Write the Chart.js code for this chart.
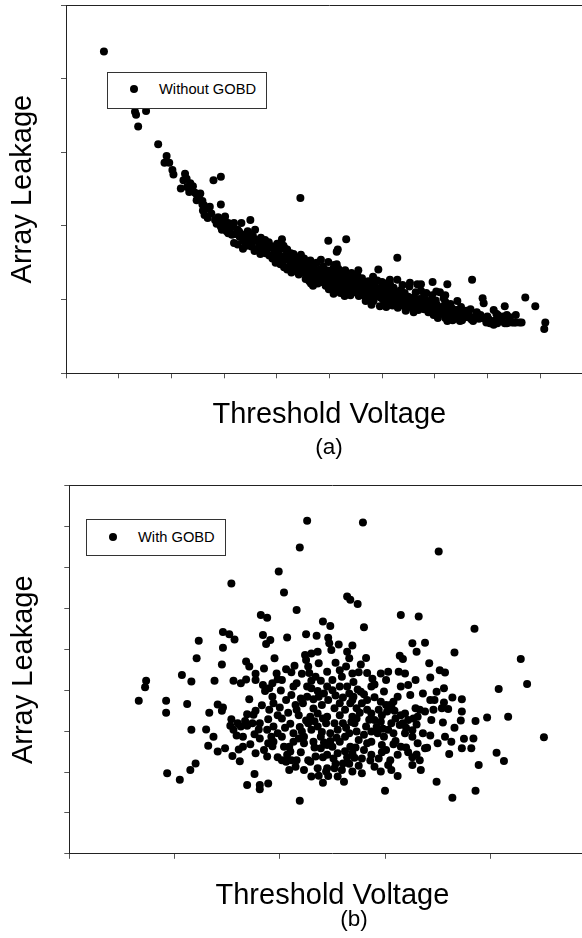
<!DOCTYPE html>
<html>
<head>
<meta charset="utf-8">
<script src="https://cdn.jsdelivr.net/npm/chart.js@4.4.1/dist/chart.umd.min.js"></script>
<style>
    html, body { margin: 0; padding: 0; background: #fff; overflow: hidden; }
    body { width: 582px; height: 938px; position: relative; font-family: "Liberation Sans", Arial, sans-serif; }
    .panel { position: absolute; left: 0; width: 640px; }
    .legend { position: absolute; border: 1px solid #333; background: #fff; box-sizing: border-box; }
    .legend .dot { position: absolute; width: 8px; height: 8px; border-radius: 50%; background: #000; }
    .legend .lbl { position: absolute; font-size: 14.7px; line-height: 1; color: #000; white-space: nowrap; }
    .tag { position: absolute; font-size: 22.5px; line-height: 1; color: #000; transform: translateX(-50%); }
</style>
</head>
<body>
<div class="panel" style="top:0;height:470px"><canvas id="chartA" width="640" height="470"></canvas></div>
<div class="panel" style="top:470px;height:468px"><canvas id="chartB" width="640" height="468"></canvas></div>

<div class="legend" style="left:107px;top:72px;width:160px;height:37px">
    <span class="dot" style="left:22px;top:12.3px"></span>
    <span class="lbl" id="legA" style="left:51px;top:9.3px"></span>
</div>
<div class="legend" style="left:86px;top:519px;width:140px;height:37px">
    <span class="dot" style="left:21.7px;top:12.7px"></span>
    <span class="lbl" id="legB" style="left:51px;top:9.8px"></span>
</div>
<div class="tag" style="left:329px;top:436px">(a)</div>
<div class="tag" style="left:354px;top:908px">(b)</div>

<script>
// series names and axis titles
const seriesNames = ["Without GOBD", "With GOBD"];
const xTitle = "Threshold Voltage";
const yTitle = "Array Leakage";

// axis ranges (no tick labels in the original, one tick every 10 units)
const rangeA = { x: [0, 100], y: [0, 50] };
const rangeB = { x: [0, 50], y: [0, 90] };
const tickStep = 10;

// (a) without GOBD: [threshold voltage, array leakage]
const withoutGobd = [
    [7.2,43.7],[13.1,35.5],[13.3,35.1],[15.2,35.6],[13.7,33.5],[17.5,31.1],[19.1,29.5],[18.7,28.6],[19.6,28.6],[20.2,27.6],
    [20.4,27.0],[22.6,27.1],[22.9,26.4],[23.6,25.8],[24.1,25.4],[21.8,25.1],[28.0,26.2],[29.4,26.7],[29.4,22.9],
    [22.3,26.2],[23.0,25.3],[23.4,24.6],[23.7,24.9],[24.5,24.5],[24.8,24.3],[25.2,24.0],[25.5,24.4],[25.9,23.4],[24.8,23.5],
    [26.2,22.8],[26.6,22.4],[26.0,22.1],[26.3,21.5],[26.9,21.1],[27.6,21.7],[27.3,22.6],[25.9,22.9],
    [28.3,20.8],[28.6,20.3],[29.0,20.6],[29.6,19.5],[30.1,20.8],[30.4,20.2],[30.8,20.4],[31.1,19.5],[31.9,20.4],[32.6,19.5],
    [31.9,17.7],[32.6,17.5],[33.3,20.4],[30.5,19.3],[29.4,19.9],[31.5,18.8],[32.2,18.9],[33.0,18.5],[28.9,21.2],[30.2,21.3],
    [34.0,18.6],[34.7,19.0],[35.0,20.8],[35.9,19.5],[36.1,18.1],[36.8,17.4],[37.8,18.1],[38.2,16.9],[35.4,17.8],[34.3,17.3],
    [33.6,16.9],[35.8,16.6],[36.9,16.2],[37.6,17.5],[38.6,16.0],[34.8,18.2],[33.8,17.9],
    [39.3,17.2],[39.6,16.3],[40.0,15.4],[41.0,15.9],[41.7,16.0],[42.1,15.4],[42.4,14.5],[43.1,14.9],[43.5,15.2],[40.5,16.8],
    [39.2,15.6],[40.7,14.8],[41.4,14.4],[42.8,13.7],[43.8,13.9],[44.3,14.5],[44.6,16.1],[43.2,16.2],[42.0,16.8],[40.1,17.6],
    [41.3,17.3],[43.9,15.6],[44.9,14.9],[44.5,23.8],[41.0,18.2],[41.6,16.9],[45.2,15.6],
    [45.2,13.6],[45.9,14.7],[46.7,13.4],[47.4,14.0],[48.1,13.8],[48.8,14.5],[49.1,12.9],[49.5,14.0],[45.5,12.8],[46.2,12.5],
    [47.0,12.6],[47.8,12.2],[48.5,12.4],[49.3,11.9],[50.0,12.6],[50.2,13.3],[46.4,15.3],[47.6,15.0],[48.4,15.4],[49.8,15.1],
    [50.6,14.1],[45.8,13.9],[47.1,14.4],[48.9,13.2],[49.9,11.4],[46.9,11.9],
    [49.8,18.0],[51.6,16.8],[51.4,16.5],[53.2,18.2],[51.4,14.8],
    [50.9,14.7],[51.2,13.8],[51.6,12.8],[52.3,12.9],[53.0,12.4],[53.7,11.9],[54.4,12.1],[55.1,11.8],[55.8,12.4],[51.0,11.6],
    [51.8,11.2],[52.6,11.4],[53.4,10.9],[54.0,10.6],[54.8,11.0],[55.6,10.5],[52.0,12.2],[53.3,13.2],[54.6,12.9],[55.3,13.4],
    [56.0,11.5],[50.8,10.8],[52.9,10.5],[54.2,13.6],[53.0,14.0],[55.5,14.0],[53.7,12.9],
    [56.2,12.9],[56.5,11.8],[57.2,11.3],[57.9,12.0],[58.3,13.1],[58.6,11.4],[59.3,14.1],[60.0,12.4],[60.7,11.6],[61.5,12.2],
    [56.8,10.5],[57.6,10.2],[58.4,9.8],[59.0,10.6],[59.7,10.3],[60.4,9.5],[61.2,10.0],[61.9,10.8],[56.9,9.8],[58.0,9.3],
    [59.6,9.1],[60.8,9.0],[57.4,12.5],[59.1,12.6],[60.3,11.0],[61.7,11.3],[58.8,10.9],[60.7,12.2],[61.5,12.7],
    [62.2,11.6],[62.9,12.7],[63.6,11.3],[64.3,10.9],[65.0,10.4],[65.7,10.0],[66.4,11.0],[67.1,10.1],[67.8,9.9],[62.5,9.6],
    [63.2,10.1],[64.0,9.2],[64.8,9.6],[65.5,8.9],[66.2,9.3],[66.9,8.6],[67.5,9.0],[63.0,8.9],[64.5,8.5],[66.0,8.3],
    [62.7,10.9],[65.2,11.8],[67.4,11.2],[68.0,10.6],[63.9,12.0],[66.7,12.1],
    [62.9,15.7],[65.3,12.3],[67.4,12.1],[69.6,12.4],[72.4,12.1],[68.4,10.9],[70.3,11.1],[72.0,10.6],[72.0,9.7],[69.4,10.0],
    [68.5,9.2],[69.2,8.8],[69.9,9.7],[70.6,8.6],[71.3,9.0],[72.0,8.4],[72.7,8.8],[73.4,8.1],[74.1,8.6],[74.8,8.0],
    [68.8,8.3],[69.8,7.9],[70.9,8.0],[72.4,7.6],[73.8,7.4],[68.2,10.0],[70.2,9.9],[71.7,10.2],[73.0,9.4],[74.3,9.8],
    [75.0,9.0],[69.5,10.6],[71.0,11.0],
    [76.8,8.7],[77.1,12.7],[79.1,10.2],[79.3,9.5],[81.2,8.6],[81.7,8.1],[83.3,9.1],[87.2,10.3],[89.1,9.1],[91.0,6.9],[90.8,6.0],
    [75.5,8.1],[76.3,7.6],[77.0,7.3],[77.7,7.7],[75.0,7.4],[74.8,7.1],[73.4,7.2],[72.0,7.5],[78.4,7.4],[79.1,7.5],
    [79.8,6.9],[80.5,6.8],[81.2,6.6],[81.9,6.8],[82.6,7.2],[83.3,6.8],[84.0,6.9],[84.7,6.9],[85.4,6.9],[83.0,7.7],
    [84.3,7.6],[86.1,6.9],[76.0,8.5],[78.0,8.3],[80.0,7.7],[82.0,7.9],
    [83.7,7.9],[85.4,7.9],[85.1,6.9],[86.5,6.9],[83.7,6.8],[80.8,6.8],[77.3,7.1],[75.2,7.2],[74.8,8.2],[72.4,7.1],[70.6,7.5],
    [34.5,19.3],[35.5,18.6],[36.5,17.9],[37.2,16.8],[38.0,17.5],[38.8,17.1],[39.8,15.0],[40.4,15.6],[41.2,15.2],[42.0,14.1],
    [42.6,15.8],[43.4,14.3],[44.2,13.4],[44.8,13.9],[45.6,14.4],[46.0,13.1],[46.8,14.0],[47.4,13.0],[48.0,12.9],[48.6,13.6],
    [49.4,12.6],[50.2,12.1],[50.5,13.6],[51.3,12.4],[51.9,13.3],[52.7,12.2],[53.5,11.6],[54.3,11.5],[55.0,12.6],[55.9,11.9],
    [56.6,11.1],[57.3,10.9],[58.1,11.7],[58.9,11.6],[59.5,10.8],[60.1,10.1],[60.9,10.5],[61.6,9.7],[62.3,10.4],[63.1,11.1],
    [63.8,10.5],[64.6,10.2],[65.3,9.6],[66.0,10.3],[66.8,9.6],[67.6,9.5],[68.3,9.0],[69.0,9.4],[69.7,9.0],[70.4,9.3],
    [71.1,8.6],[71.9,8.9],[72.6,8.2],[73.3,8.8],[74.0,8.2],[46.5,12.2],[52.1,10.9],[57.0,10.0],[62.0,9.2],[58.5,12.3],
    [30.8,19.0],[31.8,19.9],[32.9,19.2],[33.7,18.2],[34.2,18.9],[35.2,17.2],[36.3,16.9],[37.0,18.4],[37.9,16.3],[38.5,17.8],
    [39.5,16.7],[40.3,16.1],[40.9,17.0],[41.8,15.6],[42.7,16.3],[43.3,15.6],[44.0,14.9],[44.7,15.4],[45.4,15.0],[46.1,14.2],
    [46.9,14.9],[47.7,13.5],[48.3,14.1],[49.0,13.9],[49.6,13.3],[50.4,12.9],[51.1,13.1],[51.7,14.2],[52.5,13.6],[53.2,12.9],
    [53.9,12.5],[54.7,12.2],[55.4,11.1],[56.1,12.4],[56.9,11.9],[57.7,11.5],[58.4,10.6],[59.2,11.2],[59.9,11.7],[60.6,10.8],
    [61.3,11.0],[62.0,10.1],[62.8,10.7],[63.5,9.8],[64.2,9.8],[65.0,9.3],[65.8,9.0],[66.5,9.9],[67.2,9.3],[68.0,8.7],
    [68.9,9.7],[70.0,8.4],[71.5,8.3],[73.0,8.0],[74.5,7.6],[76.5,7.9],[78.7,7.9],[80.3,7.3],[81.5,7.2]
];

// (b) with GOBD: [threshold voltage, array leakage]
const withGobd = [
    [22.6,81.4],[27.9,81.0],[21.9,74.9],[35.1,73.9],[19.9,69.0],[15.4,66.1],[20.4,63.9],[26.4,62.9],[26.7,62.1],[27.4,61.1],
    [21.6,59.6],[18.2,58.4],[18.8,57.7],[31.5,58.4],[33.2,58.0],[24.1,56.8],[24.8,55.7],[28.0,55.4],[38.5,55.0],[14.6,54.2],
    [15.2,53.7],[15.7,52.4],[12.3,52.1],[12.1,47.8],[14.6,50.4],[14.5,46.3],[18.4,53.5],[19.1,52.3],[18.7,51.3],[20.7,52.9],
    [22.5,53.7],[23.5,53.3],[24.6,52.8],[24.7,51.5],[24.9,49.8],[25.6,51.2],[26.4,49.4],[26.9,50.9],[32.6,51.5],[33.8,51.6],
    [33.0,49.4],[31.4,48.4],[31.7,47.6],[36.6,49.2],[42.9,47.6],[43.5,41.5],[40.8,40.3],[41.7,33.5],[45.1,28.5],[38.6,32.5],
    [39.7,33.3],[37.3,37.8],[37.3,34.8],[37.2,32.6],[36.6,30.8],[36.3,27.4],[37.5,28.1],[38.4,28.2],[37.3,25.8],[38.2,25.8],
    [36.1,24.4],[38.9,21.7],[40.6,24.7],[41.3,22.7],[38.6,15.4],[36.4,13.7],[34.9,17.6],[30.0,15.4],[21.9,13.0],[26.1,17.6],
    [24.1,17.4],[23.7,19.1],[24.6,19.0],[24.5,20.9],[31.2,19.0],[30.6,20.5],[30.3,21.7],[33.4,20.5],[32.6,21.7],[32.6,23.6],
    [33.0,24.3],[17.6,19.5],[16.9,16.8],[18.1,16.8],[18.1,15.8],[18.9,17.2],[9.3,19.7],[10.5,18.1],[11.5,20.5],[12.0,22.1],
    [6.6,37.4],[7.2,40.7],[7.3,42.3],[9.2,37.4],[9.2,34.5],[10.7,43.7],[11.2,36.6],[11.6,42.1],[11.6,30.3],[13.0,30.4],
    [13.3,34.5],[13.8,42.3],[14.1,36.5],[14.6,35.8],[14.5,35.0],[13.2,26.4],[13.7,28.6],[14.1,25.0],[14.8,25.8],[15.4,32.9],
    [15.3,31.3],[15.6,42.3],[16.3,41.7],[16.8,42.6],[16.8,47.0],[17.1,45.8],[17.7,44.0],[17.7,42.5],[18.5,45.3],[18.4,41.3],
    [18.6,39.8],[19.0,40.5],[17.1,37.8],[17.7,35.0],[16.9,34.1],[16.7,32.5],[15.6,30.3],[15.9,28.9],[15.5,23.9],[16.1,25.5],
    [16.2,22.6],[16.5,26.2],[16.9,31.3],[18.0,30.4],[18.1,28.2],[18.5,25.4],[19.3,26.3],[19.8,23.6],[19.4,36.8],[19.8,33.9],
    [20.2,33.1],[19.4,31.1],[18.9,32.9],[19.5,47.8],[19.7,44.1],[19.8,42.7],[20.6,45.1],[21.1,44.4],[20.1,39.9],[20.6,37.6],
    [21.1,38.8],[21.3,40.9],[21.5,36.4],[21.8,33.9],[22.1,44.0],[22.4,48.6],[22.5,47.4],[23.0,49.0],[23.6,49.4],[23.7,46.6],
    [22.7,45.8],[23.0,42.3],[23.9,42.3],[24.5,44.5],[25.0,42.5],[22.6,40.9],[23.6,39.8],[22.6,38.4],[23.2,37.8],[24.0,36.4],
    [24.6,37.6],[25.3,46.7],[25.7,44.9],[25.9,43.3],[26.3,45.8],[26.6,47.8],[25.7,40.9],[25.3,38.7],[26.4,40.9],[26.6,39.2],
    [27.4,40.2],[27.7,39.6],[26.9,44.1],[27.5,44.4],[27.7,46.3],[28.2,47.9],[28.3,44.2],[28.7,40.9],[29.0,41.4],[29.6,44.1],
    [30.3,44.5],[30.1,42.5],[29.9,39.7],[30.5,36.4],[30.8,37.2],[31.3,44.5],[31.5,40.9],[32.2,41.3],[32.4,38.8],[32.9,42.5],
    [28.3,37.6],[27.8,36.8],[27.3,35.6],[26.9,33.5],[27.1,31.9],[28.7,34.3],[29.0,32.7],[29.6,32.3],[29.7,33.9],[30.1,36.4],
    [30.6,36.0],[31.0,33.1],[31.7,31.9],[31.5,33.9],[31.9,34.3],[32.2,32.7],[32.9,35.6],[33.3,35.2],[33.1,33.5],[32.7,33.1],
    [34.3,37.6],[34.9,39.6],[34.7,37.6],[35.4,35.6],[35.6,40.5],[35.7,44.3],[34.3,43.1],[34.2,46.6],[34.4,32.7],[35.5,32.1],
    [36.0,35.4],[33.6,29.5],[34.3,28.9],[33.8,25.8],[34.0,25.9],[32.0,26.0],[31.5,26.2],[31.2,24.2],[30.8,26.8],[30.1,25.4],
    [30.3,30.3],[29.9,28.6],[29.7,26.6],[28.7,27.4],[28.7,24.2],[29.0,21.3],[29.6,20.1],[28.0,29.1],[27.5,27.8],[26.7,26.2],
    [26.2,25.1],[25.5,24.6],[27.8,23.3],[27.5,21.5],[27.1,23.5],[26.6,22.0],[26.0,22.1],[25.3,22.0],[24.5,26.6],[23.9,25.8],
    [24.1,23.6],[23.4,23.8],[22.9,22.5],[22.7,22.9],[21.6,22.9],[21.8,28.2],[22.3,28.6],[23.0,30.3],[23.6,31.1],[24.1,33.1],
    [24.4,31.9],[25.2,31.9],[24.8,29.5],[25.5,30.3],[22.9,33.5],[23.6,34.3],[24.5,33.5],[22.7,31.9],[22.1,29.9],[21.3,29.5],
    [20.9,26.2],[20.7,24.2],[21.1,22.9],[21.5,21.3],[20.6,22.5],[21.3,27.4],[23.6,20.9],[24.4,20.1],[25.2,20.9],
    [21.6,35.2],[22.2,36.8],[23.2,35.5],[25.2,35.6],[25.7,33.9],[26.2,35.2],[26.7,36.8],[26.0,31.9],[26.6,29.5],[27.3,29.9],
    [28.2,31.1],[28.7,29.9],[29.3,29.5],[29.4,35.2],[27.3,33.1],[22.3,27.0],[23.2,27.4],[23.9,28.6],[24.5,24.2],[25.0,26.2],
    [25.7,27.4],[26.2,28.6],[26.9,24.6],[28.0,25.4],[28.3,27.0],[30.6,31.9],[30.8,29.5],[31.9,29.5],[32.6,28.6],[33.1,27.0],
    [29.4,23.3],[30.5,22.9],[27.8,19.7],[26.9,20.1],[25.9,20.5],[25.5,18.9],[20.2,28.6],[20.4,26.2],[19.8,29.5],[19.2,28.6],
    [18.8,30.3],[18.1,31.9],[17.4,31.9],[16.3,31.1],[16.0,31.9],[16.5,28.6],[17.7,24.6],[18.8,23.8],[20.2,22.9],[20.9,20.5],
    [22.3,20.5],[23.0,18.9],[24.5,40.9],[23.4,43.3],[21.6,41.7],[20.2,42.5],[19.3,41.7],[19.3,38.4],[23.7,38.4],[28.3,35.2],
    [31.2,38.4],[33.6,39.2],[35.2,44.9],[31.9,44.1],[35.7,28.6],[35.0,27.0],[33.3,22.9],[26.9,37.6],[25.7,36.8],
    [17.5,34.0],[18.3,36.3],[19.0,35.2],[20.0,35.8],[20.8,34.5],[21.0,31.8],[21.9,31.0],[22.5,32.6],[23.3,32.4],[24.0,29.8],
    [24.8,27.6],[25.4,28.4],[26.3,30.8],[26.8,32.2],[27.6,34.5],[28.5,32.8],[29.2,31.0],[29.8,30.6],[30.2,34.8],[30.9,35.0],
    [31.4,31.5],[32.0,30.8],[32.6,30.2],[33.0,31.6],[22.0,38.0],[23.0,40.5],[24.2,39.2],[25.0,40.0],[26.0,38.2],[27.0,38.4],
    [28.0,39.0],[29.0,38.3],[29.6,37.2],[21.0,25.0],[22.0,24.8],[23.3,26.0],[24.2,27.2],[25.1,23.3],[26.4,23.6],[27.2,26.0],
    [28.6,22.8],[29.7,24.8],[31.0,27.6],[32.2,24.8],[19.4,27.4],[18.9,27.0],[17.6,29.2],[17.2,26.8],[20.5,30.8],[33.8,34.8],
    [34.6,35.2],[35.6,37.0],[36.4,38.2],[27.0,42.0],[28.8,42.8],[22.8,44.2],[21.4,46.0]
];

const points = (rows) => rows.map((r) => ({ x: r[0], y: r[1] }));

const inkColor = "#000";
const axisColor = "#222";
const tickColor = "#555";
const titleFont = { family: "'Liberation Sans', Arial, sans-serif", size: 29 };

// Build one scatter panel. afterFit pins the axis boxes so the plot frame lands where the original has it.
function makePanel(canvasId, rows, label, range, box) {
    const ctx = document.getElementById(canvasId).getContext("2d");
    return new Chart(ctx, {
        type: "scatter",
        data: {
            datasets: [
                {
                    label: label,
                    data: points(rows),
                    pointRadius: 4,
                    pointHoverRadius: 4,
                    pointBackgroundColor: inkColor,
                    pointBorderWidth: 0,
                },
            ],
        },
        options: {
            responsive: false,
            animation: false,
            devicePixelRatio: 1,
            layout: { padding: { left: 0, top: box.top, right: box.right, bottom: 0 } },
            plugins: { legend: { display: false }, tooltip: { enabled: false } },
            scales: {
                x: {
                    type: "linear",
                    position: "bottom",
                    min: range.x[0],
                    max: range.x[1],
                    ticks: { display: false, stepSize: tickStep },
                    grid: { drawOnChartArea: false, drawTicks: true, tickLength: 5, color: tickColor },
                    border: { color: axisColor, width: 1 },
                    title: {
                        display: true,
                        text: xTitle,
                        color: inkColor,
                        font: titleFont,
                        padding: { top: 0, bottom: box.xTitlePad },
                    },
                    afterFit: (scale) => { scale.height = box.xHeight; },
                },
                y: {
                    type: "linear",
                    position: "left",
                    min: range.y[0],
                    max: range.y[1],
                    ticks: { display: false, stepSize: tickStep },
                    grid: { drawOnChartArea: false, drawTicks: true, tickLength: 5, color: tickColor },
                    border: { color: axisColor, width: 1 },
                    title: {
                        display: true,
                        text: yTitle,
                        color: inkColor,
                        font: titleFont,
                        padding: { top: box.yTitlePad, bottom: 0 },
                    },
                    afterFit: (scale) => { scale.width = box.yWidth; },
                },
                // top frame line
                xTop: {
                    type: "linear",
                    axis: "x",
                    position: "top",
                    min: range.x[0],
                    max: range.x[1],
                    ticks: { display: false },
                    grid: { display: false },
                    border: { color: axisColor, width: 1 },
                    afterFit: (scale) => { scale.height = 0; },
                },
            },
        },
    });
}

makePanel("chartA", withoutGobd, seriesNames[0], rangeA,
    { top: 5, right: 47.3, xHeight: 96.7, yWidth: 66, xTitlePad: 37.6, yTitlePad: 6 });
makePanel("chartB", withGobd, seriesNames[1], rangeB,
    { top: 15.7, right: 44.5, xHeight: 84.2, yWidth: 69.3, xTitlePad: 24.6, yTitlePad: 6.5 });

document.getElementById("legA").textContent = seriesNames[0];
document.getElementById("legB").textContent = seriesNames[1];
</script>
</body>
</html>
